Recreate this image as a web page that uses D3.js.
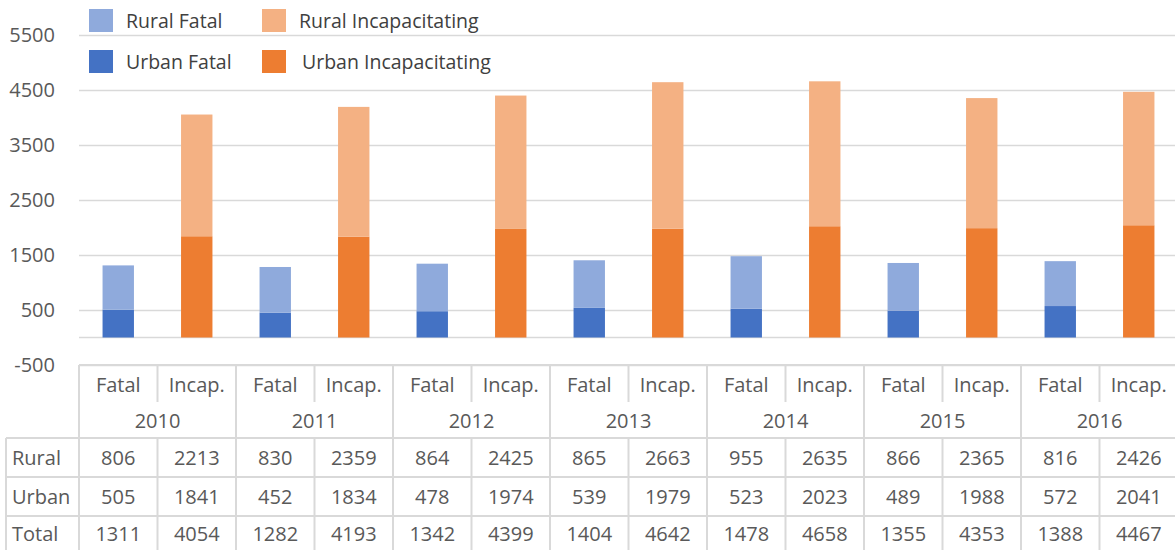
<!DOCTYPE html>
<html>
<head>
<meta charset="utf-8">
<script src="https://cdn.jsdelivr.net/npm/d3@7"></script>
<style>
  body { margin: 0; background: #fff; }
  svg text { font-family: "Open Sans", sans-serif; fill: #595959; }
</style>
</head>
<body>
<svg id="chart" width="1175" height="550"></svg>
<script>
(function() {
    // data
    var years = ["2010", "2011", "2012", "2013", "2014", "2015", "2016"];
    var kinds = ["Fatal", "Incap."];
    var ruralFatal = [806, 830, 864, 865, 955, 866, 816];
    var ruralIncap = [2213, 2359, 2425, 2663, 2635, 2365, 2426];
    var urbanFatal = [505, 452, 478, 539, 523, 489, 572];
    var urbanIncap = [1841, 1834, 1974, 1979, 2023, 1988, 2041];
    var yTicks = [-500, 500, 1500, 2500, 3500, 4500, 5500];

    var colors = {
        "Rural Fatal": "#8faadc",
        "Urban Fatal": "#4472c4",
        "Rural Incapacitating": "#f4b183",
        "Urban Incapacitating": "#ed7d31"
    };

    var svg = d3.select("#chart");
    var grey = "#d9d9d9";

    var x0 = d3.scaleBand().domain(years).range([79, 79 + 7 * 157]);
    var x1 = d3.scaleBand().domain(kinds).range([0, x0.bandwidth()]);
    var y = d3.scaleLinear().domain([-500, 5500]).range([365, 35]);
    var barW = x1.bandwidth() * 0.4;

    // gridlines + y labels (plain hyphen for negatives, like the original)
    var yAxis = svg.append("g")
        .attr("transform", "translate(79,0)")
        .call(d3.axisLeft(y).tickValues(yTicks).tickSize(-1100).tickFormat((d) => String(d)))
        .call((g) => g.select(".domain").remove());
    yAxis.selectAll(".tick line").attr("stroke", grey).attr("stroke-width", 1.5);
    yAxis.selectAll(".tick text")
        .attr("x", -24)
        .style("font-size", "20px")
        .attr("fill", "#595959");

    // zero line
    svg.append("line")
        .attr("x1", 79).attr("x2", 1175)
        .attr("y1", y(0)).attr("y2", y(0))
        .attr("stroke", grey).attr("stroke-width", 1.5);

    // stacked bars
    var rows = [];
    years.forEach(function(yr, i) {
        rows.push({ year: yr, kind: "Fatal", lo: 0, hi: urbanFatal[i], c: colors["Urban Fatal"] });
        rows.push({ year: yr, kind: "Fatal", lo: urbanFatal[i], hi: urbanFatal[i] + ruralFatal[i], c: colors["Rural Fatal"] });
        rows.push({ year: yr, kind: "Incap.", lo: 0, hi: urbanIncap[i], c: colors["Urban Incapacitating"] });
        rows.push({ year: yr, kind: "Incap.", lo: urbanIncap[i], hi: urbanIncap[i] + ruralIncap[i], c: colors["Rural Incapacitating"] });
    });

    svg.append("g").selectAll("rect")
        .data(rows)
        .join("rect")
            .attr("x", (d) => x0(d.year) + x1(d.kind) + (x1.bandwidth() - barW) / 2)
            .attr("width", barW)
            .attr("y", (d) => y(d.hi))
            .attr("height", (d) => y(d.lo) - y(d.hi))
            .attr("fill", (d) => d.c);

    // legend
    var legendNames = ["Rural Fatal", "Rural Incapacitating", "Urban Fatal", "Urban Incapacitating"];
    var legendX = [89, 262];
    var legendY = [9, 50];
    var leg = svg.append("g").selectAll("g")
        .data(legendNames)
        .join("g")
            .attr("transform", (d, i) => "translate(" + legendX[i % 2] + "," + legendY[Math.floor(i / 2)] + ")");
    leg.append("rect")
        .attr("width", 24).attr("height", 23)
        .attr("fill", (d) => colors[d]);
    leg.append("text")
        .attr("x", (d, i) => i === 3 ? 40 : 37)
        .attr("y", 12)
        .attr("dy", "0.35em")
        .style("font-size", "19.5px")
        .style("fill", "#404040")
        .text((d) => d);

    // data table under the axis
    var table = svg.append("g");
    var rowEdge = [365, 402, 438, 477, 516, 556];
    var right = 1178;

    function hline(yy, xa, xb) {
        table.append("line").attr("x1", xa).attr("x2", xb).attr("y1", yy).attr("y2", yy)
            .attr("stroke", grey).attr("stroke-width", 2);
    }
    function vline(xx, ya, yb) {
        table.append("line").attr("x1", xx).attr("x2", xx).attr("y1", ya).attr("y2", yb)
            .attr("stroke", grey).attr("stroke-width", 2);
    }

    hline(rowEdge[0], 79, right);
    hline(rowEdge[2], 6, right);
    hline(rowEdge[3], 6, right);
    hline(rowEdge[4], 6, right);
    vline(6, rowEdge[2], rowEdge[5]);
    vline(79, rowEdge[0], rowEdge[5]);
    years.forEach(function(yr) {
        vline(x0(yr) + x0.bandwidth(), rowEdge[0], rowEdge[5]);
        vline(x0(yr) + x1("Incap."), rowEdge[0], rowEdge[1]);
        vline(x0(yr) + x1("Incap."), rowEdge[2], rowEdge[5]);
    });

    function cellText(xx, yy, t, anchor) {
        table.append("text")
            .attr("x", xx).attr("y", yy)
            .attr("dy", "0.35em")
            .attr("text-anchor", anchor || "middle")
            .style("font-size", "20px")
            .text(t);
    }
    var mid = (k) => (rowEdge[k] + rowEdge[k + 1]) / 2;

    years.forEach(function(yr, i) {
        kinds.forEach(function(k) {
            cellText(x0(yr) + x1(k) + x1.bandwidth() / 2, mid(0) + 1, k);
        });
        cellText(x0(yr) + x0.bandwidth() / 2, mid(1) + 1, yr);
        var fx = x0(yr) + x1("Fatal") + x1.bandwidth() / 2;
        var ix = x0(yr) + x1("Incap.") + x1.bandwidth() / 2;
        cellText(fx, mid(2), ruralFatal[i]);
        cellText(ix, mid(2), ruralIncap[i]);
        cellText(fx, mid(3), urbanFatal[i]);
        cellText(ix, mid(3), urbanIncap[i]);
        cellText(fx, mid(4) - 2, ruralFatal[i] + urbanFatal[i]);
        cellText(ix, mid(4) - 2, ruralIncap[i] + urbanIncap[i]);
    });
    cellText(12, mid(2), "Rural", "start");
    cellText(12, mid(3), "Urban", "start");
    cellText(12, mid(4) - 2, "Total", "start");
})();
</script>
</body>
</html>
